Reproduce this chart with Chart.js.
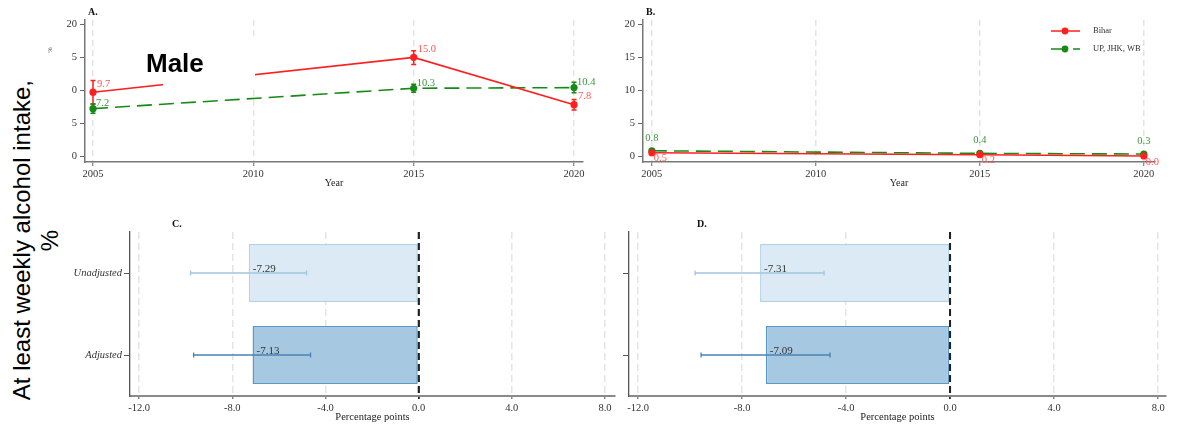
<!DOCTYPE html>
<html>
<head>
<meta charset="utf-8">
<script src="https://cdn.jsdelivr.net/npm/chart.js@4.4.1/dist/chart.umd.min.js"></script>
<style>
  body { margin: 0; background: #fff; }
  #wrap { position: relative; width: 1202px; height: 428px; overflow: hidden; background: #fff; }
  canvas { position: absolute; }
  .mask { position: absolute; background: #fff; }
  #bigLabel { display: flex; align-items: center; justify-content: center; }
  #bigLabel span {
    writing-mode: vertical-rl; transform: rotate(180deg); text-align: center;
    font: 24px 'Liberation Sans', Arial, sans-serif; line-height: 28px; color: #000;
  }
  #male { position: absolute; left: 146px; top: 50px; font: bold 26px 'Liberation Sans', Arial, sans-serif; line-height: 26px; color: #000; }
</style>
</head>
<body>
<div id="wrap">
  <canvas id="chartA" width="600" height="200" style="left:0;top:0"></canvas>
  <canvas id="chartB" width="602" height="200" style="left:600px;top:0"></canvas>
  <canvas id="chartC" width="620" height="228" style="left:0;top:200px"></canvas>
  <canvas id="chartD" width="602" height="228" style="left:600px;top:200px"></canvas>
  <div class="mask" style="left:163px;top:38px;width:92px;height:52px"></div>
  <div id="male">Male</div>
  <div class="mask" id="bigLabel" style="left:0;top:53px;width:71px;height:375px"><span>At least weekly alcohol intake,<br>%</span></div>
</div>
<script>
// survey years and tick values
const years = [2005, 2015, 2020];
const yearTicks = [2005, 2010, 2015, 2020];
const pctTicks = [0, 5, 10, 15, 20];
const seriesNames = ['Bihar', 'UP, JHK, WB'];

// panel A
const biharMale = [9.7, 15.0, 7.8];
const biharMaleLow = [7.9, 13.9, 7.0];
const biharMaleHigh = [11.5, 16.0, 8.6];
const othersMale = [7.2, 10.3, 10.4];
const othersMaleLow = [6.5, 9.7, 9.6];
const othersMaleHigh = [7.9, 10.9, 11.2];

// panel B
const biharFemale = [0.5, 0.2, 0.0];
const biharFemaleLow = [0.3, 0.1, 0.0];
const biharFemaleHigh = [0.7, 0.3, 0.1];
const othersFemale = [0.8, 0.4, 0.3];
const othersFemaleLow = [0.6, 0.3, 0.2];
const othersFemaleHigh = [1.0, 0.5, 0.4];

// panels C and D
const models = ['Unadjusted', 'Adjusted'];
const diffTicks = [-12, -8, -4, 0, 4, 8];
const diffC = [-7.29, -7.13];
const diffCLow = [-9.79, -9.66];
const diffCHigh = [-4.81, -4.64];
const diffD = [-7.31, -7.09];
const diffDLow = [-9.81, -9.58];
const diffDHigh = [-4.85, -4.62];

const RED = '#ff1f1f';
const GREEN = '#168a16';
const SERIF = "'Liberation Serif', 'DejaVu Serif', serif";

Chart.defaults.font.family = SERIF;
Chart.defaults.color = '#333';
Chart.defaults.animation = false;
Chart.defaults.plugins.legend.display = false;
Chart.defaults.plugins.tooltip.enabled = false;

function drawLetter(ctx, text, x, y) {
    ctx.save();
    ctx.font = 'bold 10px ' + SERIF;
    ctx.fillStyle = '#111';
    ctx.textBaseline = 'middle';
    ctx.fillText(text, x, y);
    ctx.restore();
}

// error bars, point labels, legend for the trend panels
const trendExtras = {
    id: 'trendExtras',
    beforeDatasetsDraw(chart) {
        const { ctx, scales: { x, y } } = chart;
        chart.data.datasets.forEach(ds => {
            ctx.save();
            ctx.strokeStyle = ds.borderColor;
            ctx.lineWidth = 1.5;
            ds.data.forEach((p, i) => {
                const px = x.getPixelForValue(p.x);
                const y1 = y.getPixelForValue(ds.low[i]);
                const y2 = y.getPixelForValue(ds.high[i]);
                ctx.beginPath();
                ctx.moveTo(px, y1); ctx.lineTo(px, y2);
                ctx.moveTo(px - 2.5, y1); ctx.lineTo(px + 2.5, y1);
                ctx.moveTo(px - 2.5, y2); ctx.lineTo(px + 2.5, y2);
                ctx.stroke();
            });
            ctx.restore();
        });
    },
    afterDatasetsDraw(chart, args, opts) {
        const { ctx, scales: { x, y } } = chart;
        chart.data.datasets.forEach(ds => {
            ctx.save();
            ctx.font = '10.5px ' + SERIF;
            ctx.fillStyle = ds.labelColor;
            ctx.textBaseline = 'middle';
            ctx.textAlign = ds.labelAt.align;
            ds.data.forEach(p => {
                const px = x.getPixelForValue(p.x);
                const py = y.getPixelForValue(p.y);
                ctx.fillText(p.y.toFixed(1), px + ds.labelAt.dx, py + ds.labelAt.dy);
            });
            ctx.restore();
        });

        if (opts.legend) {
            chart.data.datasets.forEach((ds, i) => {
                const ly = 31 + i * 18;
                ctx.save();
                ctx.strokeStyle = ds.borderColor;
                ctx.lineWidth = 1.5;
                ctx.setLineDash(ds.borderDash || []);
                ctx.beginPath();
                ctx.moveTo(451, ly); ctx.lineTo(480, ly);
                ctx.stroke();
                ctx.fillStyle = ds.borderColor;
                ctx.beginPath();
                ctx.arc(465, ly, 3.4, 0, Math.PI * 2);
                ctx.fill();
                ctx.font = '8.5px ' + SERIF;
                ctx.fillStyle = '#333';
                ctx.textBaseline = 'middle';
                ctx.fillText(ds.label, 493, ly);
                ctx.restore();
            });
        }
        drawLetter(ctx, opts.letter, opts.letterX, 12);
    }
};

function makeTrend(id, series, cfg) {
    const datasets = series.map(s => ({
        label: s.label,
        data: years.map((yr, i) => ({ x: yr, y: s.values[i] })),
        low: s.low,
        high: s.high,
        borderColor: s.color,
        backgroundColor: s.color,
        borderWidth: 1.6,
        borderDash: s.dash,
        pointRadius: 3.6,
        pointBorderWidth: 0,
        labelColor: s.labelColor,
        labelAt: s.labelAt
    }));

    return new Chart(document.getElementById(id), {
        type: 'line',
        data: { datasets: datasets },
        options: {
            responsive: false,
            layout: { padding: { left: cfg.padLeft, top: 20, right: cfg.padRight, bottom: 0 } },
            scales: {
                x: {
                    type: 'linear',
                    min: cfg.xMin,
                    max: cfg.xMax,
                    afterBuildTicks: s => { s.ticks = yearTicks.map(v => ({ value: v })); },
                    afterFit: s => { s.height = 38; },
                    grid: { color: '#e4e4e4', lineWidth: 1.5, tickColor: '#666', tickLength: 4, tickWidth: 1 },
                    border: { color: '#777', width: 1.5, dash: [6, 4] },
                    ticks: { padding: 2, font: { size: 10.5 }, maxRotation: 0, autoSkip: false, callback: v => String(v) },
                    title: { display: true, text: 'Year', font: { size: 10 }, color: '#222', padding: { top: 0, bottom: 11 } }
                },
                y: {
                    min: -0.91,
                    max: 20.68,
                    afterBuildTicks: s => { s.ticks = pctTicks.map(v => ({ value: v })); },
                    afterFit: s => { s.width = cfg.yWidth; },
                    grid: { drawOnChartArea: false, tickColor: '#666', tickLength: 5 },
                    border: { color: '#777', width: 1.5 },
                    ticks: { padding: 3, font: { size: 10.5 }, callback: v => String(v) },
                    title: {
                        display: !!cfg.yTitle,
                        text: cfg.yTitle || '',
                        font: { size: 6.5 },
                        color: '#555',
                        padding: { top: 2, bottom: 0 }
                    }
                }
            },
            plugins: { trendExtras: { letter: cfg.letter, letterX: cfg.letterX, legend: cfg.legend } }
        },
        plugins: [trendExtras]
    });
}

makeTrend('chartA', [
    { label: seriesNames[0], values: biharMale, low: biharMaleLow, high: biharMaleHigh, color: RED, dash: [],
      labelColor: '#ff5555', labelAt: { dx: 4, dy: -8, align: 'left' } },
    { label: seriesNames[1], values: othersMale, low: othersMaleLow, high: othersMaleHigh, color: GREEN, dash: [15, 7],
      labelColor: '#3a983a', labelAt: { dx: 3, dy: -5, align: 'left' } }
], { padLeft: 44, yWidth: 41, padRight: 17, xMin: 2004.75, xMax: 2020.28, letter: 'A.', letterX: 88,
     yTitle: 'At least weekly alcohol intake, %', legend: false });

makeTrend('chartB', [
    { label: seriesNames[0], values: biharFemale, low: biharFemaleLow, high: biharFemaleHigh, color: RED, dash: [],
      labelColor: '#ff5555', labelAt: { dx: 2, dy: 6, align: 'left' } },
    { label: seriesNames[1], values: othersFemale, low: othersFemaleLow, high: othersFemaleHigh, color: GREEN, dash: [15, 7],
      labelColor: '#3a983a', labelAt: { dx: 0, dy: -13, align: 'center' } }
], { padLeft: 0, yWidth: 43, padRight: 47, xMin: 2004.73, xMax: 2020.34, letter: 'B.', letterX: 46, legend: true });

// whiskers, value labels and zero line for the difference panels
const diffExtras = {
    id: 'diffExtras',
    afterDatasetsDraw(chart, args, opts) {
        const { ctx, chartArea, scales: { x } } = chart;
        const zx = x.getPixelForValue(0);
        ctx.save();
        ctx.strokeStyle = '#222';
        ctx.lineWidth = 1.8;
        ctx.setLineDash([7, 4]);
        ctx.beginPath();
        ctx.moveTo(zx, chartArea.top); ctx.lineTo(zx, chartArea.bottom);
        ctx.stroke();
        ctx.restore();

        const ds = chart.data.datasets[0];
        const meta = chart.getDatasetMeta(0);
        meta.data.forEach((bar, i) => {
            const x1 = x.getPixelForValue(ds.low[i]);
            const x2 = x.getPixelForValue(ds.high[i]);
            const by = bar.y;
            ctx.save();
            ctx.strokeStyle = ds.whiskerColor[i];
            ctx.lineWidth = 1.3;
            ctx.beginPath();
            ctx.moveTo(x1, by); ctx.lineTo(x2, by);
            ctx.moveTo(x1, by - 2.5); ctx.lineTo(x1, by + 2.5);
            ctx.moveTo(x2, by - 2.5); ctx.lineTo(x2, by + 2.5);
            ctx.stroke();
            ctx.font = '11px ' + SERIF;
            ctx.fillStyle = '#333';
            ctx.textBaseline = 'middle';
            ctx.fillText(ds.data[i].toFixed(2), Math.min(bar.x, bar.base) + 4, by - 4);
            ctx.restore();
        });
        drawLetter(ctx, opts.letter, opts.letterX, 24);
    }
};

function makeDiff(id, values, low, high, cfg) {
    return new Chart(document.getElementById(id), {
        type: 'bar',
        data: {
            labels: models,
            datasets: [{
                data: values,
                low: low,
                high: high,
                backgroundColor: ['#dbeaf4', '#a6c8e1'],
                borderColor: ['#b3d2e7', '#5b99c6'],
                whiskerColor: ['#a3c6df', '#4682b8'],
                borderWidth: 1.5,
                borderSkipped: false,
                categoryPercentage: 0.71,
                barPercentage: 1
            }]
        },
        options: {
            indexAxis: 'y',
            responsive: false,
            layout: { padding: { left: 0, top: 32, right: cfg.padRight, bottom: 0 } },
            scales: {
                x: {
                    min: cfg.xMin,
                    max: cfg.xMax,
                    afterBuildTicks: s => { s.ticks = diffTicks.map(v => ({ value: v })); },
                    afterFit: s => { s.height = 32; },
                    grid: {
                        color: c => (c.tick && c.tick.value === 0 ? '#222' : '#e4e4e4'),
                        lineWidth: c => (c.tick && c.tick.value === 0 ? 1.8 : 1.5),
                        tickColor: c => (c.tick && c.tick.value === 0 ? '#222' : '#888'),
                        tickLength: 3
                    },
                    border: { color: '#8a8a8a', width: 2, dash: [7, 4] },
                    ticks: { padding: 3, font: { size: 10.5 }, maxRotation: 0, autoSkip: false, callback: v => v.toFixed(1) },
                    title: { display: true, text: 'Percentage points', font: { size: 10.5 }, color: '#222', padding: { top: 0, bottom: 4 } }
                },
                y: {
                    afterFit: s => { s.width = cfg.yWidth; },
                    grid: { drawOnChartArea: false, offset: false, tickLength: 6, tickColor: '#555' },
                    border: { color: '#555', width: 1.3 },
                    ticks: { display: cfg.showLabels, padding: 2, font: { size: 10.5, style: 'italic' } }
                }
            },
            plugins: { diffExtras: { letter: cfg.letter, letterX: cfg.letterX } }
        },
        plugins: [diffExtras]
    });
}

makeDiff('chartC', diffC, diffCLow, diffCHigh,
    { yWidth: 130, padRight: 5, xMin: -12.39, xMax: 8.43, showLabels: true, letter: 'C.', letterX: 172 });
makeDiff('chartD', diffD, diffDLow, diffDHigh,
    { yWidth: 29, padRight: 36, xMin: -12.35, xMax: 8.3, showLabels: false, letter: 'D.', letterX: 97 });
</script>
</body>
</html>
